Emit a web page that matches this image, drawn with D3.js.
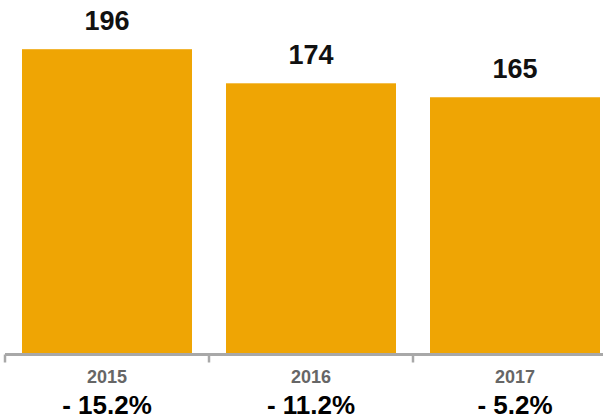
<!DOCTYPE html>
<html>
<head>
<meta charset="utf-8">
<script src="https://cdn.jsdelivr.net/npm/d3@7"></script>
<style>
  html, body { margin: 0; padding: 0; background: #fff; }
  svg { display: block; }
</style>
</head>
<body>
<svg id="chart" width="603" height="420"></svg>
<script>
// Yearly totals and the change against the previous year
const years = ["2015", "2016", "2017"];
const values = [196, 174, 165];
const changes = ["- 15.2%", "- 11.2%", "- 5.2%"];

const W = 603, H = 420;
const baseY = 353;
const svg = d3.select("#chart");
const font = "'Liberation Sans', Arial, Helvetica, sans-serif";

const x = d3.scaleBand()
  .domain(years)
  .range([5, 617])
  .paddingInner(34 / 204)
  .paddingOuter(17 / 204);

const y = d3.scaleLinear()
  .domain([0, 200])
  .range([baseY, 43]);

// Bars
svg.append("g")
  .selectAll("rect")
  .data(years)
  .join("rect")
  .attr("x", d => x(d))
  .attr("y", (d, i) => y(values[i]))
  .attr("width", x.bandwidth())
  .attr("height", (d, i) => baseY - y(values[i]))
  .attr("fill", "#EFA504");

// Value labels above bars
svg.append("g")
  .selectAll("text")
  .data(years)
  .join("text")
  .attr("x", d => x(d) + x.bandwidth() / 2)
  .attr("y", (d, i) => y(values[i]) - 19)
  .attr("text-anchor", "middle")
  .attr("font-family", font)
  .attr("font-weight", "bold")
  .attr("font-size", 27)
  .attr("fill", "#111")
  .text((d, i) => values[i]);

// Category axis
const band = d3.scaleBand().domain(years).range([5, 617]);
const axis = svg.append("g")
  .attr("transform", `translate(0,${baseY + 1.5})`)
  .call(d3.axisBottom(band).tickSize(0).tickFormat(""));
axis.select(".domain").remove();
axis.append("line")
  .attr("x1", 5).attr("x2", W)
  .attr("stroke", "#A8A8A8").attr("stroke-width", 3);
axis.selectAll(".tickmark")
  .data(years)
  .join("line")
  .attr("class", "tickmark")
  .attr("x1", d => band(d)).attr("x2", d => band(d))
  .attr("y1", 0).attr("y2", 8)
  .attr("stroke", "#A8A8A8").attr("stroke-width", 2.5);

// Year labels
svg.append("g")
  .selectAll("text")
  .data(years)
  .join("text")
  .attr("x", d => x(d) + x.bandwidth() / 2)
  .attr("y", 383)
  .attr("text-anchor", "middle")
  .attr("font-family", font)
  .attr("font-weight", "bold")
  .attr("font-size", 18)
  .attr("fill", "#666")
  .text(d => d);

// Change labels
svg.append("g")
  .selectAll("text")
  .data(years)
  .join("text")
  .attr("x", d => x(d) + x.bandwidth() / 2)
  .attr("y", 414)
  .attr("text-anchor", "middle")
  .attr("font-family", font)
  .attr("font-weight", "bold")
  .attr("font-size", 26)
  .attr("fill", "#000")
  .text((d, i) => changes[i]);
</script>
</body>
</html>
